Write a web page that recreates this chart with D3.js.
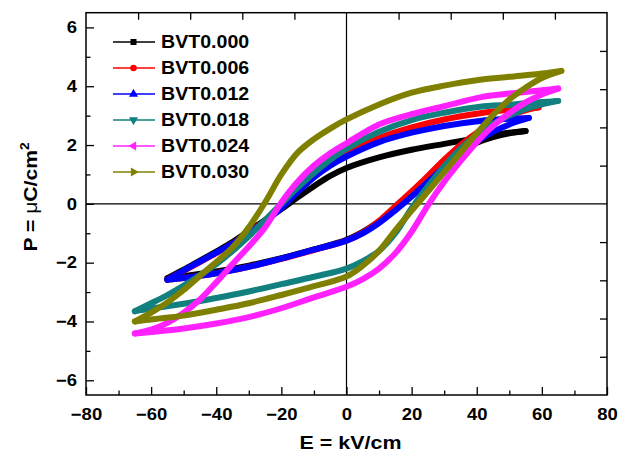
<!DOCTYPE html>
<html><head><meta charset="utf-8">
<script src="https://cdn.jsdelivr.net/npm/d3@7"></script>
<style>body{margin:0;background:#fff}</style>
</head><body>
<svg id="c" width="628" height="455"></svg>
<script>
// ---- data ----
const seriesNames = ["BVT0.000","BVT0.006","BVT0.012","BVT0.018","BVT0.024","BVT0.030"];
const seriesColors = ["#000000","#ff0000","#0000ff","#138080","#ff22ff","#808000"];
const seriesMarkers = ["square","circle","up","down","left","right"];

// [E (kV/cm), P (uC/cm^2)] : upper branch (E decreasing), lower branch (E increasing)
const bvt000Upper = [[55,2.48],[50,2.42],[45,2.33],[40,2.23],[30,2.04],[20,1.84],[10,1.58],[0,1.22],[-5,0.95],[-10,0.6],[-15,0.22],[-20,-0.18],[-25,-0.55],[-30,-0.92],[-35,-1.3],[-40,-1.62],[-45,-1.93],[-50,-2.24],[-55,-2.53]];
const bvt000Lower = [[-55,-2.53],[-50,-2.46],[-40,-2.3],[-30,-2.1],[-20,-1.85],[-10,-1.55],[0,-1.22],[5,-0.95],[10,-0.6],[15,-0.18],[20,0.3],[25,0.82],[30,1.35],[35,1.8],[40,2.08],[45,2.27],[50,2.4],[55,2.48]];

const bvt006Upper = [[59,3.28],[50,3.2],[41,3.08],[30,2.87],[20,2.6],[10,2.24],[0,1.75],[-5,1.4],[-10,0.95],[-15,0.45],[-20,-0.12],[-25,-0.58],[-30,-0.98],[-35,-1.35],[-40,-1.68],[-45,-1.98],[-50,-2.28],[-55,-2.58]];
const bvt006Lower = [[-55,-2.58],[-50,-2.52],[-40,-2.36],[-30,-2.14],[-20,-1.87],[-10,-1.57],[0,-1.25],[5,-0.98],[10,-0.58],[15,-0.08],[20,0.42],[25,0.95],[30,1.5],[35,2.0],[40,2.42],[45,2.75],[50,3.0],[55,3.18],[59,3.28]];

const bvt012Upper = [[56,2.92],[50,2.89],[41,2.82],[30,2.65],[20,2.42],[10,2.1],[0,1.61],[-5,1.3],[-10,0.9],[-15,0.4],[-20,-0.15],[-25,-0.6],[-30,-1.0],[-35,-1.35],[-40,-1.66],[-45,-1.96],[-50,-2.27],[-55,-2.58]];
const bvt012Lower = [[-55,-2.58],[-50,-2.52],[-40,-2.36],[-30,-2.14],[-20,-1.86],[-10,-1.56],[0,-1.25],[5,-1.0],[10,-0.65],[15,-0.22],[20,0.25],[25,0.75],[30,1.25],[35,1.72],[40,2.12],[45,2.45],[50,2.7],[56,2.92]];

const bvt018Upper = [[65,3.5],[60,3.46],[55,3.42],[50,3.37],[41,3.3],[30,3.1],[20,2.85],[10,2.45],[0,1.88],[-5,1.5],[-10,1.05],[-15,0.55],[-20,0.0],[-25,-0.55],[-30,-1.1],[-35,-1.6],[-40,-2.05],[-45,-2.42],[-50,-2.78],[-55,-3.1],[-60,-3.38],[-65,-3.65]];
const bvt018Lower = [[-65,-3.65],[-60,-3.56],[-50,-3.4],[-40,-3.2],[-30,-2.98],[-20,-2.73],[-10,-2.48],[0,-2.2],[5,-1.95],[10,-1.6],[15,-1.0],[20,-0.15],[25,0.6],[30,1.28],[35,1.88],[40,2.35],[45,2.72],[50,3.0],[55,3.22],[60,3.38],[65,3.5]];

const bvt024Upper = [[65,3.92],[60,3.86],[50,3.75],[41,3.62],[30,3.32],[20,3.05],[10,2.7],[0,2.06],[-5,1.72],[-10,1.3],[-15,0.75],[-20,0.05],[-25,-0.8],[-30,-1.45],[-35,-2.05],[-40,-2.67],[-45,-3.25],[-50,-3.7],[-55,-4.05],[-60,-4.28],[-65,-4.41]];
const bvt024Lower = [[-65,-4.41],[-60,-4.36],[-50,-4.24],[-40,-4.07],[-30,-3.85],[-20,-3.55],[-10,-3.18],[0,-2.82],[5,-2.56],[10,-2.2],[15,-1.68],[20,-0.95],[25,-0.05],[30,0.75],[35,1.45],[40,2.1],[45,2.65],[50,3.08],[55,3.45],[60,3.72],[65,3.92]];

const bvt030Upper = [[66,4.52],[60,4.43],[50,4.32],[41,4.22],[30,4.02],[20,3.78],[10,3.38],[0,2.87],[-5,2.56],[-10,2.2],[-15,1.74],[-20,1.0],[-25,0.05],[-30,-0.8],[-35,-1.48],[-40,-1.98],[-45,-2.45],[-50,-2.93],[-55,-3.35],[-60,-3.7],[-65,-4.0]];
const bvt030Lower = [[-65,-4.0],[-60,-3.93],[-50,-3.8],[-40,-3.6],[-30,-3.38],[-20,-3.1],[-10,-2.8],[0,-2.47],[5,-2.1],[10,-1.6],[15,-0.9],[20,-0.23],[25,0.42],[30,1.08],[35,1.74],[40,2.4],[45,3.02],[50,3.55],[55,3.95],[60,4.28],[66,4.52]];

const seriesUpper = [bvt000Upper,bvt006Upper,bvt012Upper,bvt018Upper,bvt024Upper,bvt030Upper];
const seriesLower = [bvt000Lower,bvt006Lower,bvt012Lower,bvt018Lower,bvt024Lower,bvt030Lower];

const xMajorTicks = [-80,-60,-40,-20,0,20,40,60,80];
const xMinorTicks = [-70,-50,-30,-10,10,30,50,70];
const yMajorTicks = [-6,-4,-2,0,2,4,6];
const yMinorTicks = [-5,-3,-1,1,3,5];
const xTopTicks = [-64,-48,-32,-16,16,32,48,64];
const yRightTicks = [-5.2,-3.9,-2.6,-1.3,1.3,2.6,3.9,5.2];

// ---- layout ----
const svg = d3.select("#c");
const FONT = "Arial, 'Liberation Sans', sans-serif";
const m = {left:86, right:607, top:12.7, bottom:395};
const x = d3.scaleLinear().domain([-80,80]).range([m.left,m.right]);
const y = d3.scaleLinear().domain([-6.5,6.5]).range([m.bottom,m.top]);
const SX = 1.12;

// zero lines
svg.append("line").attr("x1",x(0)).attr("x2",x(0)).attr("y1",m.top).attr("y2",m.bottom)
  .attr("stroke","#000").attr("stroke-width",1.2);
svg.append("line").attr("x1",m.left).attr("x2",m.right).attr("y1",y(0)).attr("y2",y(0))
  .attr("stroke","#000").attr("stroke-width",1.2);

// loops
const line = d3.line().x(d=>x(d[0])).y(d=>y(d[1])).curve(d3.curveCatmullRom.alpha(0.5));
seriesNames.forEach((n,i)=>{
  [seriesLower[i], seriesUpper[i]].forEach(br=>{
    svg.append("path").attr("d",line(br)).attr("fill","none")
      .attr("stroke",seriesColors[i]).attr("stroke-width",6)
      .attr("stroke-linecap","round").attr("stroke-linejoin","round");
  });
});

// axes
function styleAxis(g){
  g.select(".domain").remove();
  g.selectAll("line").attr("stroke","#000").attr("stroke-width",1.3);
  g.selectAll("text").attr("font-family",FONT).attr("font-weight","bold").attr("font-size",16.5).attr("fill","#000");
}
const gb = svg.append("g").attr("transform",`translate(0,${m.bottom})`)
  .call(d3.axisBottom(x).tickValues(xMajorTicks).tickSize(-8).tickPadding(13).tickFormat(d3.format("d")));
styleAxis(gb);
gb.selectAll("text").attr("transform",`scale(${SX},1)`);
const gbm = svg.append("g").attr("transform",`translate(0,${m.bottom})`)
  .call(d3.axisBottom(x).tickValues(xMinorTicks).tickSize(-4.5).tickFormat(""));
styleAxis(gbm);

const gl = svg.append("g").attr("transform",`translate(${m.left},0)`)
  .call(d3.axisLeft(y).tickValues(yMajorTicks).tickSize(-8).tickPadding(8).tickFormat(d3.format("d")));
styleAxis(gl);
gl.selectAll("text").attr("transform",`scale(${SX},1)`);
const glm = svg.append("g").attr("transform",`translate(${m.left},0)`)
  .call(d3.axisLeft(y).tickValues(yMinorTicks).tickSize(-4.5).tickFormat(""));
styleAxis(glm);

const gt = svg.append("g").attr("transform",`translate(0,${m.top})`)
  .call(d3.axisTop(x).tickValues(xTopTicks).tickSize(-7).tickFormat(""));
styleAxis(gt);
const gr = svg.append("g").attr("transform",`translate(${m.right},0)`)
  .call(d3.axisRight(y).tickValues(yRightTicks).tickSize(-7).tickFormat(""));
styleAxis(gr);

// frame
svg.append("rect").attr("x",m.left).attr("y",m.top).attr("width",m.right-m.left).attr("height",m.bottom-m.top)
  .attr("fill","none").attr("stroke","#000").attr("stroke-width",1.5);

// axis titles
svg.append("text").attr("transform",`translate(${x(0)+4},449) scale(1.16,1)`)
  .attr("text-anchor","middle").attr("font-family",FONT).attr("font-weight","bold").attr("font-size",18.5)
  .text("E = kV/cm");
const yt = svg.append("text").attr("transform",`translate(37,197) rotate(-90) scale(1.14,1)`)
  .attr("text-anchor","middle").attr("font-family",FONT).attr("font-weight","bold").attr("font-size",18.5);
yt.append("tspan").text("P = ");
yt.append("tspan").attr("font-weight","normal").text("μ");
yt.append("tspan").text("C/cm");
yt.append("tspan").attr("font-size",12).attr("dy",-8).text("2");

// legend
const symType = {square:d3.symbolSquare, circle:d3.symbolCircle, up:d3.symbolTriangle, down:d3.symbolTriangle, left:d3.symbolTriangle, right:d3.symbolTriangle};
const symRot = {square:0, circle:0, up:0, down:180, left:-90, right:90};
seriesNames.forEach((n,i)=>{
  const cy = 42 + i*26;
  const g = svg.append("g");
  g.append("line").attr("x1",113).attr("x2",155).attr("y1",cy).attr("y2",cy)
    .attr("stroke",seriesColors[i]).attr("stroke-width",1.3);
  const k = seriesMarkers[i];
  g.append("path").attr("d",d3.symbol().type(symType[k]).size(k==="circle"?34:36)())
    .attr("transform",`translate(133.5,${cy}) rotate(${symRot[k]})`).attr("fill",seriesColors[i]);
  g.append("text").attr("transform",`translate(161,${cy+6.3}) scale(${SX},1)`)
    .attr("font-family",FONT).attr("font-weight","bold").attr("font-size",17.5).text(n);
});
</script>
</body></html>
